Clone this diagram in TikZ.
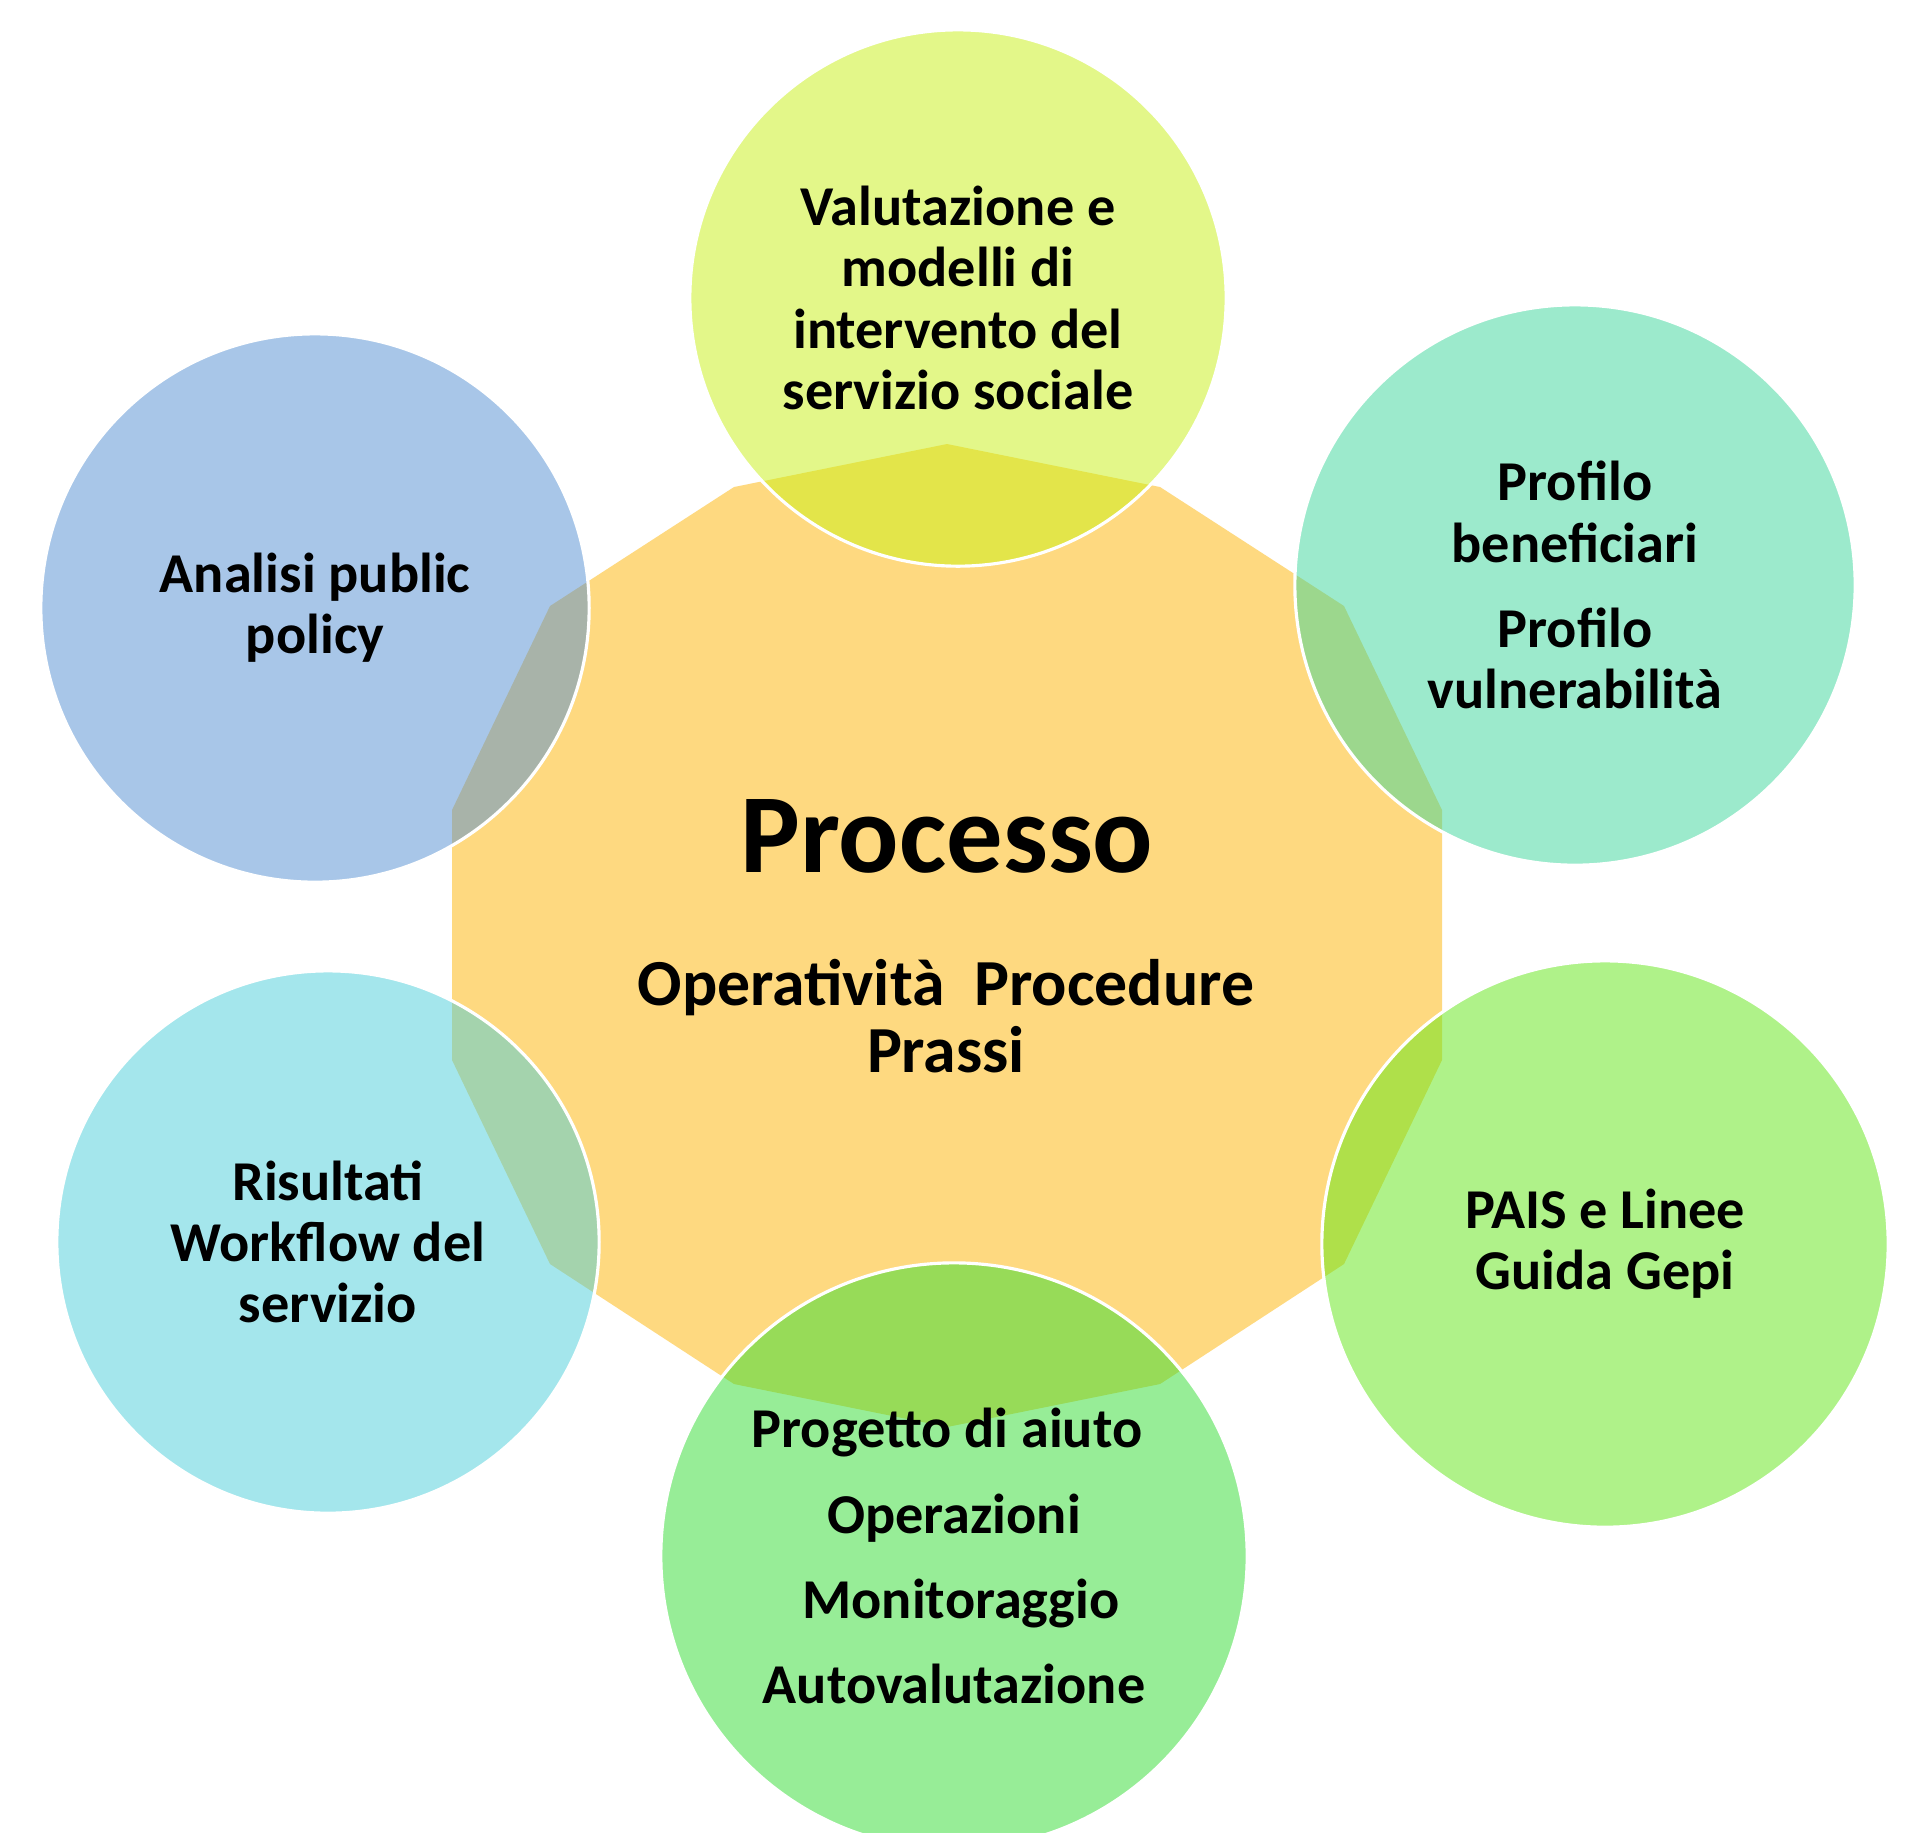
\documentclass[tikz,border=0pt]{standalone}
\usepackage{fontspec}
\setmainfont{Carlito}
\definecolor{core}{RGB}{254,217,128}
\definecolor{cTop}{RGB}{201,241,21}
\definecolor{cTopRight}{RGB}{59,215,155}
\definecolor{cBotRight}{RGB}{97,231,21}
\definecolor{cBot}{RGB}{49,221,49}
\definecolor{cBotLeft}{RGB}{75,207,219}
\definecolor{cTopLeft}{RGB}{83,143,211}
\begin{document}
\begin{tikzpicture}[x=0.01cm, y=-0.01cm,
    bubble/.style = {circle, draw=white, line width=0.9pt, fill opacity=0.5, text opacity=1, inner sep=0pt, align=center, font=\fontsize{16}{17.4}\selectfont\bfseries}]
    \useasboundingbox (0,0) rectangle (1919,1832);
    \fill[white] (0,0) rectangle (1919,1832);
    \fill[core] (947,444) -- (1160,487) -- (1344,606) -- (1442,810) -- (1442,1060) -- (1344,1264) -- (1160,1384) -- (947,1427)
        -- (734,1384) -- (550,1264) -- (452,1060) -- (452,810) -- (550,606) -- (734,487) -- cycle;
    \node[font=\fontsize{32}{38}\selectfont\bfseries] (proc) at (947,836) {Processo};
    \node[align=center, font=\fontsize{18.7}{19}\selectfont\bfseries] (oper) at (946,1016) {Operatività\ \ Procedure\\Prassi};
    \node[bubble, fill=cTop, minimum size=5.36cm] (valut) at (958,298) {Valutazione e\\modelli di\\intervento del\\servizio sociale};
    \node[bubble, fill=cTopRight, minimum size=5.6cm] (prof) at (1575,585) {Profilo\\beneficiari\\[0.24cm]Profilo\\vulnerabilità};
    \node[bubble, fill=cBotRight, minimum size=5.66cm] (pais) at (1605,1244) {PAIS e Linee\\Guida Gepi};
    \node[bubble, fill=cBot, minimum size=5.86cm, font=\fontsize{16}{24.2}\selectfont\bfseries] (prog) at (954,1556)
        {\hspace*{-0.14cm}Progetto di aiuto\\Operazioni\\\hspace*{0.14cm}Monitoraggio\\Autovalutazione};
    \node[bubble, fill=cBotLeft, minimum size=5.42cm] (ris) at (328,1242) {Risultati\\Workflow del\\servizio};
    \node[bubble, fill=cTopLeft, minimum size=5.48cm] (anal) at (315,608) {Analisi public\\policy};
\end{tikzpicture}
\end{document}
